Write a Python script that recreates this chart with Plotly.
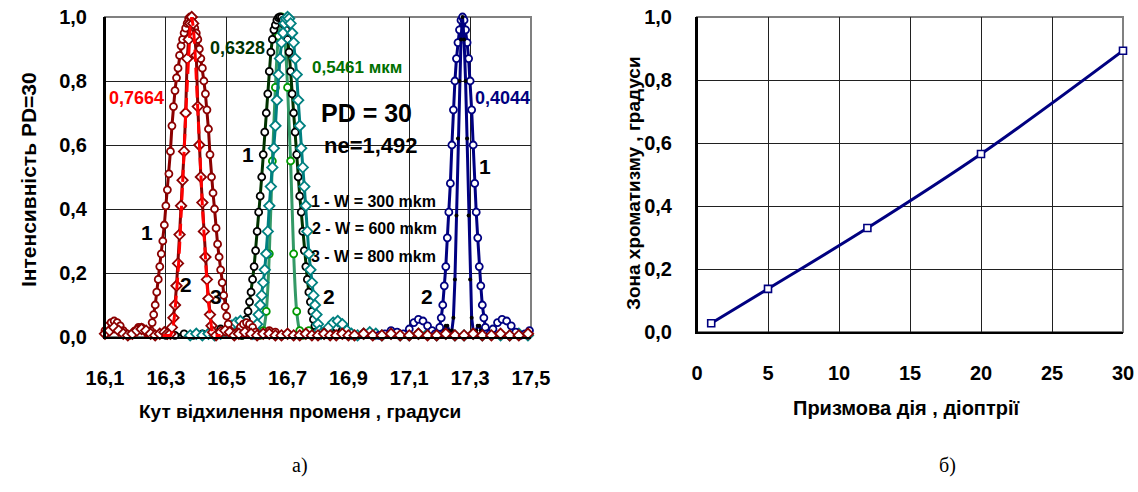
import plotly.graph_objects as go

# ---------------- left panel: intensity profiles, PD = 30 ----------------
# (angle, intensity) pairs per curve
red_w300 = [(16.100,0.020),(16.110,0.035),(16.120,0.045),(16.130,0.050),(16.140,0.045),(16.150,0.035),(16.160,0.020),(16.170,0.010),(16.180,0.005),(16.190,0.010),(16.200,0.020),(16.210,0.030),(16.220,0.030),(16.230,0.020),(16.240,0.010),
            (16.245,0.010),(16.250,0.020),(16.255,0.045),(16.260,0.070),(16.265,0.100),(16.270,0.140),(16.275,0.180),(16.280,0.220),(16.285,0.260),(16.290,0.300),(16.295,0.350),(16.300,0.410),(16.305,0.460),(16.310,0.510),(16.315,0.580),(16.320,0.660),(16.325,0.720),(16.330,0.770),(16.335,0.810),(16.340,0.840),(16.345,0.880),(16.350,0.910),(16.355,0.930),(16.360,0.950),(16.365,0.965),(16.370,0.980),(16.375,0.995),(16.380,1.000),
            (16.385,0.995),(16.390,0.980),(16.395,0.965),(16.400,0.950),(16.405,0.930),(16.410,0.900),(16.415,0.870),(16.420,0.840),(16.425,0.800),(16.430,0.760),(16.435,0.710),(16.440,0.650),(16.445,0.570),(16.450,0.500),(16.455,0.450),(16.460,0.400),(16.465,0.340),(16.470,0.290),(16.475,0.250),(16.480,0.210),(16.485,0.170),(16.490,0.130),(16.495,0.095),(16.500,0.065),(16.505,0.040),(16.510,0.020),(16.515,0.010),
            (16.525,0.005),(16.535,0.015),(16.545,0.030),(16.555,0.040),(16.565,0.045),(16.575,0.040),(16.585,0.030),(16.595,0.015),(16.605,0.005),(16.620,0.010),(16.640,0.020),(16.660,0.015),(16.680,0.005),(16.700,0.010)]

red_w600 = [(16.290,0.005),(16.305,0.005),(16.315,0.005),(16.320,0.015),(16.325,0.040),(16.330,0.080),(16.335,0.130),(16.340,0.200),(16.345,0.280),(16.350,0.370),(16.355,0.470),(16.360,0.580),(16.365,0.690),(16.370,0.800),(16.375,0.900),(16.380,0.970),(16.385,1.000),
            (16.390,0.970),(16.395,0.910),(16.400,0.820),(16.405,0.720),(16.410,0.620),(16.415,0.510),(16.420,0.410),(16.425,0.320),(16.430,0.240),(16.435,0.170),(16.440,0.110),(16.445,0.060),(16.450,0.030),(16.455,0.010),(16.460,0.005),(16.480,0.005)]

red_w800 = [(16.100,0.010),(16.115,0.020),(16.130,0.030),(16.145,0.020),(16.160,0.010),(16.175,0.005),(16.190,0.010),(16.205,0.020),(16.220,0.025),(16.235,0.020),(16.250,0.010),(16.265,0.005),(16.280,0.010),(16.295,0.015),(16.305,0.010),
            (16.315,0.010),(16.320,0.030),(16.325,0.060),(16.330,0.100),(16.335,0.160),(16.340,0.230),(16.345,0.320),(16.350,0.410),(16.355,0.490),(16.360,0.580),(16.365,0.700),(16.370,0.870),(16.375,0.930),(16.380,0.980),(16.385,1.000),
            (16.390,0.980),(16.395,0.940),(16.400,0.880),(16.405,0.720),(16.410,0.600),(16.415,0.500),(16.420,0.420),(16.425,0.330),(16.430,0.250),(16.435,0.180),(16.440,0.120),(16.445,0.070),(16.450,0.035),(16.455,0.015),
            (16.465,0.005),(16.480,0.015),(16.495,0.020),(16.510,0.015),(16.525,0.005),(16.540,0.010),(16.560,0.015),(16.580,0.010),(16.600,0.005),(16.620,0.010),(16.640,0.010),(16.660,0.005),(16.680,0.005),(16.700,0.010),(16.720,0.005),(16.740,0.005),(16.760,0.010),(16.780,0.005),(16.800,0.005),(16.820,0.010),(16.840,0.005),(16.860,0.005),(16.880,0.010),(16.900,0.005),(16.920,0.005),(16.950,0.010),(16.980,0.005),(17.010,0.005),(17.040,0.010),(17.070,0.005),(17.100,0.005),(17.130,0.010),(17.160,0.005),(17.190,0.005),(17.220,0.010),(17.250,0.005),(17.280,0.005),(17.310,0.010),(17.340,0.005),(17.370,0.005),(17.400,0.010),(17.430,0.005),(17.460,0.005),(17.490,0.010)]

he_ne = [(16.300,0.005),(16.330,0.005),(16.360,0.010),(16.390,0.005),(16.420,0.010),(16.450,0.015),(16.480,0.025),(16.510,0.030),(16.530,0.020),(16.540,0.010),
         (16.550,0.005),(16.555,0.015),(16.560,0.035),(16.565,0.055),(16.570,0.080),(16.575,0.110),(16.580,0.140),(16.585,0.180),(16.590,0.220),(16.595,0.270),(16.600,0.330),(16.605,0.390),(16.610,0.440),(16.615,0.500),(16.620,0.570),(16.625,0.640),(16.630,0.700),(16.635,0.760),(16.640,0.830),(16.645,0.890),(16.650,0.930),(16.655,0.960),(16.660,0.975),(16.665,0.990),(16.670,0.998),(16.675,1.000),
         (16.680,0.998),(16.685,0.990),(16.690,0.975),(16.695,0.960),(16.700,0.930),(16.705,0.890),(16.710,0.830),(16.715,0.760),(16.720,0.700),(16.725,0.640),(16.730,0.570),(16.735,0.500),(16.740,0.440),(16.745,0.390),(16.750,0.330),(16.755,0.270),(16.760,0.220),(16.765,0.180),(16.770,0.140),(16.775,0.110),(16.780,0.080),(16.785,0.055),(16.790,0.035),(16.795,0.015),(16.800,0.005),
         (16.820,0.010),(16.840,0.025),(16.860,0.030),(16.880,0.020),(16.900,0.010),(16.920,0.005),(16.950,0.010),(16.980,0.005),(17.010,0.005)]

green_teal = [(16.380,0.005),(16.400,0.010),(16.420,0.005),(16.440,0.010),(16.460,0.005),(16.480,0.010),(16.500,0.020),(16.515,0.035),(16.530,0.045),(16.545,0.050),(16.560,0.040),(16.575,0.020),(16.585,0.010),
              (16.590,0.010),(16.595,0.020),(16.600,0.040),(16.605,0.070),(16.610,0.100),(16.615,0.130),(16.620,0.170),(16.625,0.210),(16.630,0.260),(16.635,0.330),(16.640,0.410),(16.645,0.470),(16.650,0.530),(16.655,0.590),(16.660,0.660),(16.665,0.740),(16.670,0.820),(16.675,0.870),(16.680,0.920),(16.685,0.950),(16.690,0.980),(16.695,0.995),(16.700,1.000),
              (16.705,0.995),(16.710,0.980),(16.715,0.950),(16.720,0.920),(16.725,0.870),(16.730,0.820),(16.735,0.740),(16.740,0.660),(16.745,0.590),(16.750,0.530),(16.755,0.470),(16.760,0.410),(16.765,0.330),(16.770,0.260),(16.775,0.210),(16.780,0.170),(16.785,0.130),(16.790,0.100),(16.795,0.070),(16.800,0.040),(16.805,0.020),(16.810,0.010),
              (16.820,0.010),(16.835,0.030),(16.850,0.045),(16.865,0.050),(16.880,0.040),(16.895,0.020),(16.910,0.010),(16.930,0.005),(16.950,0.010),(16.970,0.015),(16.990,0.010),(17.010,0.005),(17.040,0.010),(17.070,0.005),(17.100,0.005),(17.130,0.010),(17.160,0.010),(17.190,0.005),(17.220,0.010),(17.250,0.005),(17.280,0.005),(17.310,0.010),(17.340,0.005),(17.370,0.010),(17.400,0.005),(17.430,0.005),(17.460,0.010),(17.490,0.005)]

green_sea = [(16.550,0.005),(16.570,0.020),(16.590,0.030),(16.600,0.020),(16.610,0.005),(16.620,0.020),(16.630,0.080),(16.640,0.260),(16.650,0.550),(16.660,0.780),(16.670,0.940),(16.680,1.000),
             (16.690,0.940),(16.700,0.780),(16.710,0.550),(16.720,0.260),(16.730,0.080),(16.740,0.020),(16.750,0.005),(16.770,0.020),(16.790,0.030),(16.810,0.010)]

blue_w300 = [(16.980,0.005),(17.000,0.005),(17.020,0.010),(17.040,0.020),(17.060,0.015),(17.080,0.010),(17.100,0.025),(17.115,0.045),(17.130,0.055),(17.145,0.050),(17.160,0.035),(17.175,0.020),(17.185,0.010),(17.190,0.005),
             (17.195,0.010),(17.200,0.030),(17.205,0.060),(17.210,0.100),(17.215,0.160),(17.220,0.220),(17.225,0.310),(17.230,0.390),(17.235,0.480),(17.240,0.600),(17.245,0.710),(17.250,0.800),(17.255,0.870),(17.260,0.920),(17.265,0.960),(17.270,0.990),(17.275,1.000),
             (17.280,0.990),(17.285,0.960),(17.290,0.920),(17.295,0.870),(17.300,0.800),(17.305,0.710),(17.310,0.600),(17.315,0.480),(17.320,0.390),(17.325,0.310),(17.330,0.220),(17.335,0.160),(17.340,0.100),(17.345,0.060),(17.350,0.030),(17.355,0.010),
             (17.365,0.010),(17.375,0.025),(17.390,0.045),(17.405,0.055),(17.420,0.050),(17.435,0.035),(17.450,0.015),(17.465,0.005),(17.480,0.010),(17.495,0.020)]

blue_w600 = [(17.200,0.005),(17.210,0.010),(17.215,0.020),(17.220,0.035),(17.225,0.035),(17.230,0.020),(17.235,0.008),(17.240,0.020),(17.245,0.060),(17.250,0.180),(17.255,0.380),(17.260,0.620),(17.265,0.800),(17.270,0.930),(17.275,1.000),
             (17.280,0.930),(17.285,0.800),(17.290,0.620),(17.295,0.380),(17.300,0.180),(17.305,0.060),(17.310,0.020),(17.315,0.008),(17.320,0.020),(17.325,0.035),(17.330,0.035),(17.335,0.020),(17.340,0.010),(17.350,0.005)]

angle_ticks = [16.1, 16.3, 16.5, 16.7, 16.9, 17.1, 17.3, 17.5]
intensity_ticks = [0.0, 0.2, 0.4, 0.6, 0.8, 1.0]

# ---------------- right panel: chromatism zone vs prism power ----------------
prism_power = [1, 5, 12, 20, 30]
chroma_zone = [0.028, 0.137, 0.330, 0.565, 0.893]

SANS = "Liberation Sans, Arial, sans-serif"
SERIF = "Liberation Serif, Times New Roman, serif"
TICK_FONT = dict(family=SANS, size=20, color="black", weight="bold")

fig = go.Figure()


def profile(pairs, line_color, dash="solid", symbol=None, fill="white",
            edge=None, msize=7, shape="linear"):
    xs = [p[0] for p in pairs]
    ys = [p[1] for p in pairs]
    mode = "lines" if symbol is None else "lines+markers"
    tr = go.Scatter(x=xs, y=ys, mode=mode, xaxis="x", yaxis="y",
                    line=dict(color=line_color, width=3, dash=dash, shape=shape),
                    cliponaxis=False, hoverinfo="skip")
    if symbol is not None:
        tr.marker = dict(symbol=symbol, size=msize, color=fill,
                         line=dict(color=edge or line_color, width=1.8 if fill == "white" else 0))
    fig.add_trace(tr)


DARK_RED = "#8B0000"
profile(green_sea, "#339966", symbol="circle", edge="#009900", shape="spline")
profile(he_ne, "#003300", symbol="circle", edge="black")
profile(green_teal, "#008080", symbol="diamond", msize=8)
profile(blue_w300, "#000080", symbol="circle")
profile(blue_w600, "#000080", symbol="circle", fill="black", msize=4)
profile(red_w300, DARK_RED, symbol="circle")
profile(red_w800, DARK_RED, symbol="diamond", msize=8)
profile(red_w600, "#FF0000", dash="12px,6px")

fig.add_trace(go.Scatter(
    x=prism_power, y=chroma_zone, mode="lines+markers", xaxis="x2", yaxis="y2",
    line=dict(color="#000080", width=3, shape="spline"),
    marker=dict(symbol="square", size=7, color="white", line=dict(color="#000080", width=1.6)),
    cliponaxis=False, hoverinfo="skip"))

axis_common = dict(showgrid=True, gridcolor="#202020", gridwidth=1, zeroline=False,
                   showline=True, linecolor="black", linewidth=2, ticks="",
                   tickfont=TICK_FONT, fixedrange=True, automargin=False)

fig.update_layout(
    template="none",
    width=1138, height=492, margin=dict(l=0, r=0, t=0, b=0, pad=0),
    paper_bgcolor="white", plot_bgcolor="white", showlegend=False,
    separators=", ",
    xaxis=dict(domain=[105/1138, 531/1138], range=[16.1, 17.5], tickvals=angle_ticks,
               tickformat=".1f", anchor="y", ticklabelstandoff=22, **axis_common),
    yaxis=dict(domain=[1-337/492, 1-17/492], range=[0, 1.0], tickvals=intensity_ticks,
               tickformat=".1f", anchor="x", ticklabelstandoff=12, **axis_common),
    xaxis2=dict(domain=[697/1138, 1123/1138], range=[0, 30], dtick=5,
                tickformat="d", anchor="y2", ticklabelstandoff=22, **axis_common),
    yaxis2=dict(domain=[1-332/492, 1-17/492], range=[0, 1.0], tickvals=intensity_ticks,
                tickformat=".1f", anchor="x2", ticklabelstandoff=19, **axis_common),
)

# gray plot-area frames with black value axes
for xr, yr in (("x domain", "y domain"), ("x2 domain", "y2 domain")):
    fig.add_shape(type="rect", xref=xr, yref=yr, x0=0, x1=1, y0=0, y1=1,
                  line=dict(color="#808080", width=2), layer="below")
    fig.add_shape(type="line", xref=xr, yref=yr, x0=0, x1=0, y0=0, y1=1,
                  line=dict(color="black", width=2))


def note(text, x, y, color="black", size=20, xref="x", yref="y", angle=0,
         family=SANS, weight="bold"):
    fig.add_annotation(text=text, x=x, y=y, xref=xref, yref=yref, showarrow=False,
                       textangle=angle, xanchor="center", yanchor="middle",
                       font=dict(family=family, size=size, color=color, weight=weight))


# wavelength labels
note("0,7664", 16.202, 0.747, color="#FF0000", size=18)
note("0,6328", 16.537, 0.903, color="#003300", size=18)
note("0,5461 мкм", 16.928, 0.841, color="#007000", size=17)
note("0,4044", 17.405, 0.747, color="#000080", size=18)
note("PD = 30", 16.961, 0.700, size=25)
note("ne=1,492", 16.974, 0.597, size=22)
note("1 - W = 300 mkm", 16.9825, 0.422, size=16)
note("2 - W = 600 mkm", 16.9855, 0.340, size=16)
note("3 - W = 800 mkm", 16.9825, 0.253, size=16)

# curve numbers
note("1", 16.238, 0.328, size=21)
note("2", 16.366, 0.163, size=21)
note("3", 16.465, 0.128, size=21)
note("1", 16.570, 0.569, size=21)
note("2", 16.836, 0.128, size=21)
note("1", 17.349, 0.534, size=21)
note("2", 17.158, 0.128, size=21)

# axis titles
note("Кут відхилення променя , градуси", 300/1138, 1-411/492, xref="paper", yref="paper", size=19)
note("Інтенсивність PD=30", 28/1138, 1-180/492, xref="paper", yref="paper", size=21, angle=-90)
note("Призмова дія , діоптрії", 906/1138, 1-408/492, xref="paper", yref="paper", size=20)
note("Зона хроматизму , градуси", 633/1138, 1-183/492, xref="paper", yref="paper", size=19, angle=-90)

# panel letters
note("а)", 300/1138, 1-465/492, xref="paper", yref="paper", size=20, family=SERIF, weight="normal")
note("б)", 947/1138, 1-465/492, xref="paper", yref="paper", size=20, family=SERIF, weight="normal")

fig.write_html("out.html")
